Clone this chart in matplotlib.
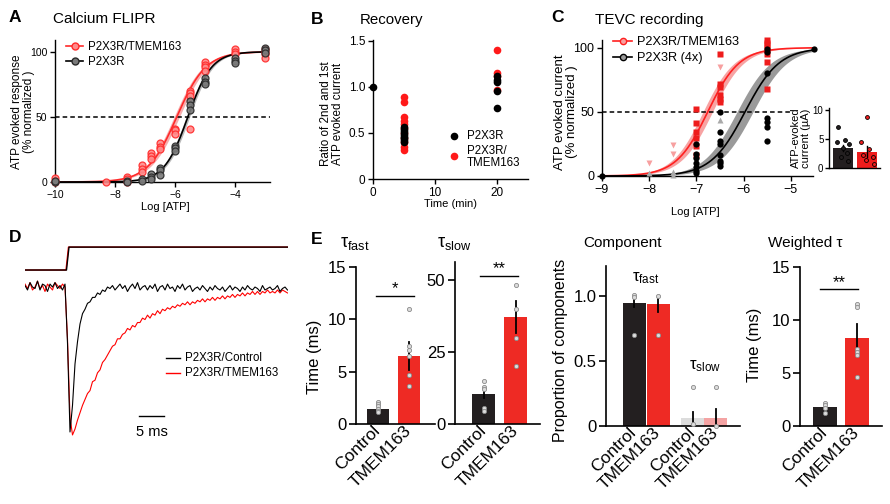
import numpy as np
import matplotlib
matplotlib.use("Agg")
import matplotlib.pyplot as plt
from matplotlib.lines import Line2D

plt.rcParams['font.family'] = ['Liberation Sans', 'DejaVu Sans']
plt.rcParams['mathtext.fontset'] = 'custom'
plt.rcParams['mathtext.rm'] = 'Liberation Sans'
plt.rcParams['mathtext.it'] = 'Liberation Sans:italic'
plt.rcParams['axes.linewidth'] = 1.0

RED = '#ee2a24'
BLACK = '#231f20'

# ---------------- data ----------------
# A: calcium FLIPR dose response
a_log_atp = [-10, -8.3, -7.6, -7.1, -6.8, -6.5, -6.0, -5.5, -5.0, -4.0, -3.0]
a_tmem = [[3, 1, 0], [0], [4, 2, 0], [13, 10, 8], [22, 20, 18], [30, 27, 25],
          [41, 40, 37], [70, 68, 66, 41], [92, 90, 88, 85], [102, 100, 98],
          [102, 100, 98, 95]]
a_ctrl = [[0, 1], [], [1, 0], [2, 1], [6, 4, 2], [11, 9, 5], [28, 26, 24],
          [62, 59, 55], [80, 77, 75], [95, 93, 91], [103, 101, 99]]
a_ec50_tmem, a_hill_tmem = -5.95, 0.9
a_ec50_ctrl, a_hill_ctrl = -5.58, 1.1

# B: recovery
b_ctrl_t = [0, 5, 20]
b_ctrl = [[1.0], [0.57, 0.54, 0.52, 0.5, 0.48, 0.46, 0.44, 0.42, 0.4],
          [1.12, 1.08, 1.05, 0.96, 0.77]]
b_tmem_t = [5, 20]
b_tmem = [[0.89, 0.84, 0.67, 0.63, 0.6, 0.55, 0.5, 0.45, 0.4, 0.35, 0.32],
          [1.4, 1.15, 1.12, 0.97]]

# C: TEVC dose response
c_sq_x = [-7, -6.5, -5.5]
c_sq_y = [[52, 41, 34, 30, 23, 16], [95, 72, 69, 63, 60, 58],
          [106, 104, 102, 99, 95, 89, 68]]
c_tdown_x = [-8, -7.5, -6.5]
c_tdown_y = [[10], [24, 17], [85]]
c_tup_x = [-8, -7.5, -6.5]
c_tup_y = [[2], [3, 1], [44]]
c_circ_x = [-9, -7, -6.5, -5.5, -4.5]
c_circ_y = [[0], [25, 17, 14, 10, 7, 4, 2], [50, 34, 27, 25, 16, 12, 10, 8],
            [99, 97, 80, 45, 42, 38, 27], [99]]
c_ec50_tmem, c_hill_tmem = -6.76, 1.3
c_ec50_ctrl, c_hill_ctrl = -5.97, 1.2

# C inset: ATP evoked current (uA)
inset_mean = [3.45, 2.8]
inset_sem = [0.55, 0.9]
inset_pts = [[7.1, 4.8, 4.5, 4.2, 3.4, 2.5, 1.9, 1.2],
             [8.7, 4.5, 3.2, 2.2, 1.9, 1.3, 0.75]]

# D: current traces (0.5 ms sampling, normalized to peak = -100)
trace_ctrl = [1, -2, 3, 0, -1, 4, -2, 2, 1, -3, 2, 0, 3, -1, 1, -2, 2,
              -38, -98, -80, -52, -37, -25, -18, -15, -11, -10, -7, -7, -4, -5, -2, -3, 0, -1,
              1, -2, 0, 2, -1, 1, -3, 0, 2, -1,
              3, -2, 0, 1, -2, 1, -1, 2, -3, 0,
              1, -2, 2, -1, 0, -3, 1, -1, 2, -2,
              0, 1, -3, -1, 0, -2, 1, -1, -3, 0,
              -2, 1, -1, -2, 0, -3, -1, 1, -2, 0,
              -1, -3, 0, -2, 1, -1, -2, 0, -1, -3,
              1, -2, -1, 0, -2, -1, 1, -3, -1, 0,
              -2]
trace_tmem = [2, -1, 3, -2, 0, 4, -1, 1, -3, 2, 0, -2, 3, 1, -1, 2, 0,
              -35, -88, -100, -96, -90, -85, -80, -76, -72, -70,
              -64, -63, -58, -56, -51, -49, -46, -43, -40, -39,
              -35, -35, -32, -31, -28, -29, -26, -27, -24, -24,
              -21, -22, -19, -21, -18, -19, -16, -18, -15, -16,
              -14, -15, -13, -14, -12, -13, -11, -12, -10, -12,
              -10, -11, -9, -10, -8, -10, -8, -9, -7, -9,
              -7, -8, -6, -8, -6, -7, -5, -7, -5, -6,
              -4, -6, -4, -5, -3, -5, -3, -5, -3, -4,
              -2, -4, -3, -4, -2, -4, -2, -3, -4]
step_t = [0, 8.2, 8.7, 52.6]
step_v = [0, 0, 1, 1]

# E: kinetics
e_groups = ['Control', 'TMEM163']
fast_mean, fast_sem = [1.45, 6.5], [0.3, 1.3]
fast_pts = [[2.1, 1.9, 1.7, 1.4, 1.2, 1.1], [11.0, 7.5, 7.1, 6.45, 4.7, 3.6]]
slow_mean, slow_sem = [10.3, 37.2], [1.3, 5.5]
slow_pts = [[15.0, 12.8, 12.2, 5.5, 4.4], [48.3, 40.0, 30.0, 20.0]]
comp_mean, comp_sem = [0.948, 0.938, 0.06, 0.062], [0.035, 0.065, 0.05, 0.07]
comp_pts = [[1.006, 0.99, 0.70], [1.0, 0.70], [0.30, 0.015], [0.30, 0.003]]
wt_mean, wt_sem = [1.8, 8.27], [0.3, 1.35]
wt_pts = [[2.17, 1.95, 1.7, 1.26], [11.5, 11.2, 7.3, 7.0, 6.7, 4.6]]

# ---------------- figure ----------------
W, H = 890, 504
fig = plt.figure(figsize=(W / 100, H / 100), dpi=100)


def px_axes(left, top, right, bottom):
    return fig.add_axes([left / W, 1 - bottom / H, (right - left) / W, (bottom - top) / H])


def px_text(x, y, s, **kw):
    return fig.text(x / W, 1 - y / H, s, **kw)


def hill(x, ec50, n):
    return 100.0 / (1 + 10 ** ((ec50 - x) * n))


def style_axes(ax, size, lw=1.0, length=3.5):
    for s in ['top', 'right']:
        ax.spines[s].set_visible(False)
    for s in ['left', 'bottom']:
        ax.spines[s].set_linewidth(lw)
    ax.tick_params(labelsize=size, width=lw, length=length, pad=2)


# ---- A ----
axA = px_axes(55, 40, 270, 182)
xa = np.linspace(-10, -3, 300)
axA.fill_between(xa, hill(xa, a_ec50_tmem - 0.09, a_hill_tmem), hill(xa, a_ec50_tmem + 0.09, a_hill_tmem),
                 color='#f59a9a', lw=0, alpha=0.8, zorder=1)
axA.fill_between(xa, hill(xa, a_ec50_ctrl - 0.06, a_hill_ctrl), hill(xa, a_ec50_ctrl + 0.06, a_hill_ctrl),
                 color='#a8a8a8', lw=0, alpha=0.8, zorder=1)
axA.plot(xa, hill(xa, a_ec50_tmem, a_hill_tmem), color='#ff2a2a', lw=1.2, zorder=2)
axA.plot(xa, hill(xa, a_ec50_ctrl, a_hill_ctrl), color='black', lw=1.2, zorder=2)
axA.axhline(50, color='black', ls=(0, (3, 2)), lw=1.1, zorder=1)
for x, ys in zip(a_log_atp, a_tmem):
    axA.plot([x] * len(ys), ys, 'o', ms=5, mfc='#ff8a8a', mec='#ff2a2a', mew=0.9, alpha=0.9,
             clip_on=False, zorder=3)
for x, ys in zip(a_log_atp, a_ctrl):
    axA.plot([x] * len(ys), ys, 'o', ms=5, mfc='#7a7a7a', mec='#2a2a2a', mew=0.9, alpha=0.9,
             clip_on=False, zorder=4)
axA.set_xlim(-10, -2.85)
axA.set_ylim(0, 109)
axA.set_xticks([-10, -8, -6, -4])
axA.set_yticks([0, 50, 100])
style_axes(axA, 7.5)
handlesA = [Line2D([], [], color='#ff2a2a', marker='o', ms=5, mfc='#ff8a8a', mec='#ff2a2a', lw=1.2),
            Line2D([], [], color='black', marker='o', ms=5, mfc='#7a7a7a', mec='#2a2a2a', lw=1.2)]
axA.legend(handlesA, ['P2X3R/TMEM163', 'P2X3R'], loc='upper left', frameon=False,
           bbox_to_anchor=(66 / W, 1 - 41 / H), bbox_transform=fig.transFigure,
           borderpad=0, borderaxespad=0, handlelength=1.5, handletextpad=0.4,
           labelspacing=0.25, fontsize=8.3)
px_text(15, 18, 'A', fontsize=12.5, fontweight='bold', ha='center', va='center')
px_text(53, 19, 'Calcium FLIPR', fontsize=11, ha='left', va='center')
px_text(23, 112, 'ATP evoked response\n(% normalized )', fontsize=8.5, rotation=90,
        ha='center', va='center', linespacing=1.1)
px_text(165, 207, 'Log [ATP]', fontsize=8, ha='center', va='center')

# ---- B ----
axB = px_axes(373, 40, 528, 179)
for t, ys in zip(b_tmem_t, b_tmem):
    axB.plot([t] * len(ys), ys, 'o', ms=5.5, color='#ff1a1a', mec='none', clip_on=False, zorder=3)
for t, ys in zip(b_ctrl_t, b_ctrl):
    axB.plot([t] * len(ys), ys, 'o', ms=5.5, color='black', mec='none', clip_on=False, zorder=4)
axB.set_xlim(0, 25)
axB.set_ylim(0, 1.51)
axB.set_xticks([0, 10, 20])
axB.set_yticks([0, 0.5, 1.0, 1.5])
axB.set_yticklabels(['0', '0.5', '1.0', '1.5'])
style_axes(axB, 8.5)
axB.plot([0.52], [0.31], 'o', ms=5.5, color='black', mec='none', transform=axB.transAxes, clip_on=False)
axB.plot([0.52], [0.165], 'o', ms=5.5, color='#ff1a1a', mec='none', transform=axB.transAxes, clip_on=False)
px_text(467, 136, 'P2X3R', fontsize=8.3, ha='left', va='center')
px_text(467, 157, 'P2X3R/\nTMEM163', fontsize=8.3, ha='left', va='center', linespacing=1.05)
px_text(317, 19, 'B', fontsize=12.5, fontweight='bold', ha='center', va='center')
px_text(360, 20, 'Recovery', fontsize=10.8, ha='left', va='center')
px_text(332, 114, 'Ratio of 2nd and 1st\nATP evoked current', fontsize=8.4, rotation=90,
        ha='center', va='center', linespacing=1.1)
px_text(450, 204, 'Time (min)', fontsize=8, ha='center', va='center')

# ---- C ----
axC = px_axes(602, 40, 813, 176)
xc = np.linspace(-9, -4.5, 300)
axC.fill_between(xc, hill(xc, c_ec50_tmem - 0.1, c_hill_tmem), hill(xc, c_ec50_tmem + 0.1, c_hill_tmem),
                 color='#f7a3a3', lw=0, zorder=1)
axC.fill_between(xc, hill(xc, c_ec50_ctrl - 0.17, c_hill_ctrl), hill(xc, c_ec50_ctrl + 0.17, c_hill_ctrl),
                 color='#9a9a9a', lw=0, zorder=1)
axC.plot(xc, hill(xc, c_ec50_tmem, c_hill_tmem), color='#ff2020', lw=1.2, zorder=2)
axC.plot(xc, hill(xc, c_ec50_ctrl, c_hill_ctrl), color='black', lw=1.2, zorder=2)
axC.plot([-9, -5], [50, 50], color='black', ls=(0, (3, 2)), lw=1.1, zorder=1)
for x, ys in zip(c_sq_x, c_sq_y):
    axC.plot([x] * len(ys), ys, 's', ms=4.5, color='#ee1c1c', mec='none', clip_on=False, zorder=3)
for x, ys in zip(c_tdown_x, c_tdown_y):
    axC.plot([x] * len(ys), ys, 'v', ms=5, color='#f7a0a0', mec='none', clip_on=False, zorder=3)
for x, ys in zip(c_tup_x, c_tup_y):
    axC.plot([x] * len(ys), ys, '^', ms=5, color='#a9a9a9', mec='none', clip_on=False, zorder=3)
for x, ys in zip(c_circ_x, c_circ_y):
    axC.plot([x] * len(ys), ys, 'o', ms=4.5, color='black', mec='none', clip_on=False, zorder=4)
axC.set_xlim(-9, -4.53)
axC.set_ylim(0, 106)
axC.set_xticks([-9, -8, -7, -6, -5])
axC.set_yticks([0, 50, 100])
style_axes(axC, 9)
handlesC = [Line2D([], [], color='#ff2020', marker='o', ms=4.5, mfc='#f7a0a0', mec='#ff2020', lw=1.2),
            Line2D([], [], color='black', marker='o', ms=4.5, mfc='#9a9a9a', mec='black', lw=1.2)]
axC.legend(handlesC, ['P2X3R/TMEM163', 'P2X3R (4x)'], loc='upper left', frameon=False,
           bbox_to_anchor=(613 / W, 1 - 36 / H), bbox_transform=fig.transFigure,
           borderpad=0, borderaxespad=0, handlelength=1.5, handletextpad=0.4,
           labelspacing=0.35, fontsize=9.2)
px_text(557, 18, 'C', fontsize=12.5, fontweight='bold', ha='center', va='center')
px_text(595, 20, 'TEVC recording', fontsize=11, ha='left', va='center')
px_text(566, 112, 'ATP evoked current\n(% normalized )', fontsize=9.5, rotation=90,
        ha='center', va='center', linespacing=1.1)
px_text(695, 212, 'Log [ATP]', fontsize=8, ha='center', va='center')

# C inset
axI = px_axes(829, 108, 880, 168)
axI.bar([0, 1], inset_mean, width=0.83, color=[BLACK, '#ee1c1c'], zorder=2)
for x, m, s in zip([0, 1], inset_mean, inset_sem):
    axI.plot([x, x], [m - s, m + s], color='black', lw=1.0, zorder=3)
inset_dx = [[-0.2, 0.1, -0.25, 0.25, 0.0, 0.15, -0.1, 0.2],
            [0.0, -0.25, 0.1, -0.15, 0.25, -0.05, 0.3]]
for x, ys, dx in zip([0, 1], inset_pts, inset_dx):
    axI.plot(np.array(dx) + x, ys, 'o', ms=2.8, mfc=BLACK if x == 0 else '#ee1c1c',
             mec='black', mew=0.6, clip_on=False, zorder=4)
axI.set_xlim(-0.58, 1.54)
axI.set_ylim(0, 10.3)
axI.set_xticks([])
axI.set_yticks([0, 5, 10])
style_axes(axI, 7, length=3)
axI.tick_params(pad=1)
px_text(801, 138, 'ATP-evoked\ncurrent (µA)', fontsize=8, rotation=90,
        ha='center', va='center', linespacing=1.1)

# ---- D ----
axD = px_axes(25, 240, 288, 445)
t_ctrl = np.arange(len(trace_ctrl)) * 0.5
t_tmem = np.arange(len(trace_tmem)) * 0.5
axD.plot(t_tmem, trace_tmem, color='#ff0000', lw=0.8)
axD.plot(t_ctrl, trace_ctrl, color='black', lw=0.8)
axD.plot(step_t, 11.5 + 15.5 * np.array(step_v), color='#ff0000', lw=1.0)
axD.plot(np.array(step_t) + 0.1, 11.5 + 15.5 * np.array(step_v), color='black', lw=1.0)
axD.plot([22.7, 27.7], [-87, -87], color='black', lw=1.0)
axD.set_xlim(0, 52.6)
axD.set_ylim(-106.8, 31.8)
axD.axis('off')
px_text(152, 432, '5 ms', fontsize=10.5, ha='center', va='center')
fig.add_artist(Line2D([166 / W, 180 / W], [1 - 358 / H, 1 - 358 / H], color='black', lw=1.0))
fig.add_artist(Line2D([166 / W, 180 / W], [1 - 373 / H, 1 - 373 / H], color='#ff0000', lw=1.0))
px_text(185, 358, 'P2X3R/Control', fontsize=8.3, ha='left', va='center')
px_text(185, 373, 'P2X3R/TMEM163', fontsize=8.3, ha='left', va='center')
px_text(15, 238, 'D', fontsize=12.5, fontweight='bold', ha='center', va='center')


# ---- E ----
def labels_for(xs):
    return [e_groups[i % 2] for i in range(len(xs))]


def bar_panel(ax, xs, means, sems, pts, colors, width):
    ax.bar(xs, means, width=width, color=colors, zorder=2)
    for x, m, s in zip(xs, means, sems):
        ax.plot([x, x], [max(m - s, 0), m + s], color='black', lw=1.3, zorder=3)
    for x, ys in zip(xs, pts):
        ax.plot([x] * len(ys), ys, 'o', ms=3, mfc='#dcdcdc', mec='#8a8a8a', mew=0.6,
                clip_on=False, zorder=4)
    style_axes(ax, 12, lw=1.2, length=5)
    ax.tick_params(axis='x', length=0, pad=3)
    ax.set_xticks(xs)
    ax.set_xticklabels(labels_for(xs), rotation=45, ha='right', va='center',
                       rotation_mode='anchor', fontsize=12.5)


def sig_bar(ax, x0, x1, y, text, dy):
    ax.plot([x0, x1], [y, y], color='black', lw=1.0, clip_on=False)
    ax.text((x0 + x1) / 2, y + dy, text, ha='center', va='center', fontsize=12)


axE1 = px_axes(356, 267, 435, 424)
bar_panel(axE1, [0, 1], fast_mean, fast_sem, fast_pts, [BLACK, RED], 0.74)
axE1.set_xlim(-0.71, 1.84)
axE1.set_ylim(0, 15)
axE1.set_yticks([0, 5, 10, 15])
sig_bar(axE1, -0.06, 1.16, 12.2, '*', 0.7)

axE2 = px_axes(455, 262, 540, 424)
bar_panel(axE2, [0, 1], slow_mean, slow_sem, slow_pts, [BLACK, RED], 0.72)
axE2.set_xlim(-0.9, 1.75)
axE2.set_ylim(0, 56.2)
axE2.set_yticks([0, 25, 50])
sig_bar(axE2, -0.12, 1.06, 51.5, '**', 2.3)

axE3 = px_axes(606, 266, 740, 426)
comp_x = [0, 1, 2.45, 3.4]
bar_panel(axE3, comp_x, comp_mean, comp_sem, comp_pts,
          [BLACK, RED, '#dcdcdc', '#f4a3a3'], 0.96)
axE3.set_xlim(-1.17, 4.42)
axE3.set_ylim(0, 1.23)
axE3.set_yticks([0, 0.5, 1.0])
axE3.set_yticklabels(['0', '0.5', '1.0'])
axE3.text(0.5, 1.14, r'τ$_{\mathrm{fast}}$', ha='center', va='center', fontsize=12)
axE3.text(2.95, 0.46, r'τ$_{\mathrm{slow}}$', ha='center', va='center', fontsize=12)

axE4 = px_axes(800, 267, 882, 426)
bar_panel(axE4, [0, 1], wt_mean, wt_sem, wt_pts, [BLACK, RED], 0.72)
axE4.set_xlim(-0.78, 1.78)
axE4.set_ylim(0, 15)
axE4.set_yticks([0, 5, 10, 15])
sig_bar(axE4, -0.16, 1.03, 12.9, '**', 0.6)

px_text(317, 240, 'E', fontsize=12.5, fontweight='bold', ha='center', va='center')
px_text(340, 243, r'τ$_{\mathrm{fast}}$', fontsize=13, ha='left', va='center')
px_text(437, 243, r'τ$_{\mathrm{slow}}$', fontsize=13, ha='left', va='center')
px_text(583, 243, 'Component', fontsize=11, ha='left', va='center')
px_text(768, 243, 'Weighted τ', fontsize=11, ha='left', va='center')
px_text(315, 357, 'Time (ms)', fontsize=12, rotation=90, ha='center', va='center')
px_text(561, 350, 'Proportion of components', fontsize=11.5, rotation=90, ha='center', va='center')
px_text(755, 345, 'Time (ms)', fontsize=12, rotation=90, ha='center', va='center')

fig.savefig('out.png', dpi=100, facecolor='white')
